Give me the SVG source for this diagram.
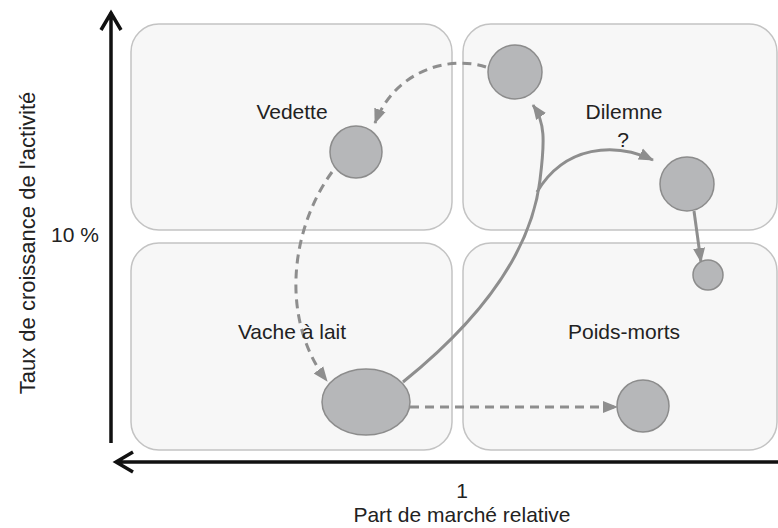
<svg xmlns="http://www.w3.org/2000/svg" width="778" height="528" viewBox="0 0 778 528">
<defs>
<marker id="ah" markerUnits="userSpaceOnUse" markerWidth="16" markerHeight="14" viewBox="0 0 16 14" refX="14" refY="7" orient="auto">
<path d="M0,1 L15,7 L0,13 z" fill="#8e8e8e"/>
</marker>
</defs>
<style>
.box{fill:#f7f7f7;stroke:#c3c3c3;stroke-width:1.5}
.node{fill:#b6b7b9;stroke:#8c8c8c;stroke-width:1.5}
.lbl{font-family:"Liberation Sans",Arial,sans-serif;font-size:21px;fill:#222;text-anchor:middle}
.c{fill:none;stroke:#8e8e8e;stroke-width:3}
.d{stroke-dasharray:9 6}
.axis{fill:none;stroke:#111;stroke-width:3.5}
</style>
<g id="quadrants">
<rect id="q-vedette" class="box" x="131" y="24" width="321" height="206" rx="28"/>
<rect id="q-dilemne" class="box" x="463" y="24" width="314" height="206" rx="28"/>
<rect id="q-vache" class="box" x="131" y="243" width="321" height="207" rx="28"/>
<rect id="q-poids" class="box" x="463" y="243" width="314" height="207" rx="28"/>
</g>
<g id="axes">
<path class="axis" d="M111 443 V12 M101 30 L111 13 L121 30"/>
<path class="axis" d="M778 462 H116 M133 452 L116 462 L133 472"/>
</g>
<g id="connectors">
<path class="c d" d="M486 67 C450 55 395 70 375 123" marker-end="url(#ah)"/>
<path class="c d" d="M332 172 C290 230 280 320 327 381" marker-end="url(#ah)"/>
<path class="c" d="M403 382 C490 312 532 245 540 180 C545 140 545 122 533 105" marker-end="url(#ah)"/>
<path class="c" d="M537 192 C565 145 615 142 653 160" marker-end="url(#ah)"/>
<path class="c" d="M694 211 L701 262" marker-end="url(#ah)"/>
<path class="c d" d="M410 407 H617" marker-end="url(#ah)"/>
</g>
<g id="n-vedette"><circle class="node" cx="356" cy="152" r="26"/></g>
<g id="n-dilemne-top"><circle class="node" cx="515" cy="72" r="27"/></g>
<g id="n-dilemne"><circle class="node" cx="687" cy="184" r="27"/></g>
<g id="n-small"><circle class="node" cx="708" cy="275" r="15"/></g>
<g id="n-poids"><circle class="node" cx="643" cy="406" r="26"/></g>
<g id="n-vache"><ellipse class="node" cx="366" cy="402" rx="44" ry="33"/></g>
<g id="labels">
<text class="lbl" x="292" y="119">Vedette</text>
<text class="lbl" x="624" y="119">Dilemne</text>
<text class="lbl" x="623" y="147">?</text>
<text class="lbl" x="292" y="339">Vache à lait</text>
<text class="lbl" x="624" y="339">Poids-morts</text>
<text class="lbl" x="75" y="242">10 %</text>
<text class="lbl" x="462" y="498">1</text>
<text class="lbl" x="462" y="522">Part de marché relative</text>
<text class="lbl" style="font-size:22px" transform="translate(35 243) rotate(-90)">Taux de croissance de l'activité</text>
</g>
</svg>
